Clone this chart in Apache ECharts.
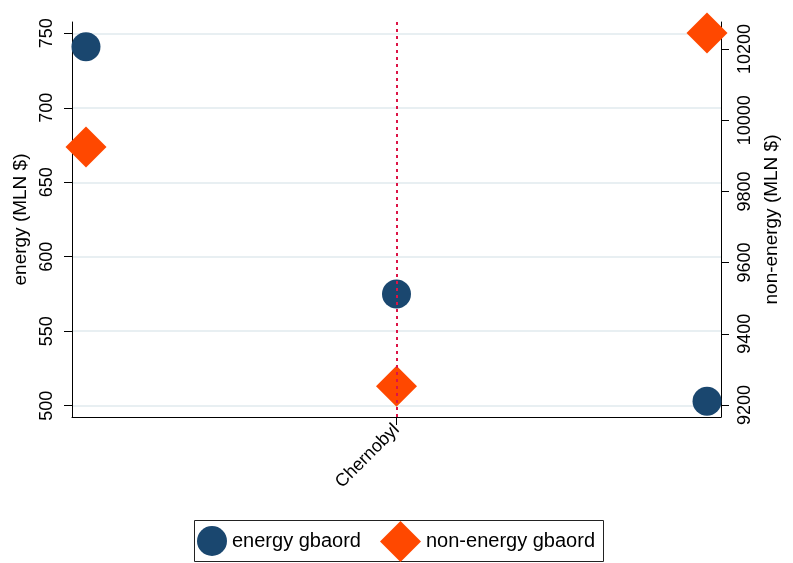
<!DOCTYPE html>
<html>
<head>
<meta charset="utf-8">
<script src="https://cdn.jsdelivr.net/npm/echarts@6/dist/echarts.min.js"></script>
<style>
  html, body { margin: 0; padding: 0; background: #fff; }
  #chart { width: 793px; height: 563px; }
</style>
</head>
<body>
<div id="chart"></div>
<script>
// x positions and the one labelled event
const positions = [0, 1, 2];
const eventLabels = ["", "Chernobyl", ""];
// values
const energy = [741, 575, 503];
const nonEnergy = [9925, 9253, 10245];
const leftTicks = [500, 550, 600, 650, 700, 750];
const rightTicks = [9200, 9400, 9600, 9800, 10000, 10200];

const font = "Liberation Sans, Arial, sans-serif";
const chart = echarts.init(document.getElementById("chart"));

const energyData = positions.map((x, i) => [x, energy[i]]);
const nonEnergyData = positions.map((x, i) => [x, nonEnergy[i]]);

const option = {
  backgroundColor: "#ffffff",
  animation: false,
  textStyle: { fontFamily: font, color: "#000" },
  grid: { left: 72, right: 72, top: 22, bottom: 146 },
  xAxis: {
    type: "value",
    min: -0.045,
    max: 2.045,
    axisLine: { show: true, onZero: false, lineStyle: { color: "#000", width: 1 } },
    axisTick: { show: true, length: 8, customValues: [1], lineStyle: { color: "#000" } },
    axisLabel: {
      customValues: [1],
      rotate: 45,
      margin: 10,
      fontSize: 18,
      color: "#000",
      fontFamily: font,
      formatter: (v) => eventLabels[Math.round(v)] || "",
    },
    splitLine: { show: false },
  },
  yAxis: [
    {
      type: "value",
      position: "left",
      min: 492.4,
      max: 757.6,
      name: "energy (MLN $)",
      nameLocation: "middle",
      nameGap: 39,
      nameTextStyle: { fontSize: 19, color: "#000", fontFamily: font },
      axisLine: { show: true, onZero: false, lineStyle: { color: "#000" } },
      axisTick: { show: true, length: 8, customValues: leftTicks, lineStyle: { color: "#000" } },
      axisLabel: { customValues: leftTicks, rotate: 90, fontSize: 18, margin: 16, color: "#000", fontFamily: font },
      splitLine: { show: true, lineStyle: { color: "#e8eff2", width: 2 } },
    },
    {
      type: "value",
      position: "right",
      min: 9166.3,
      max: 10275.8,
      name: "non-energy (MLN $)",
      nameLocation: "middle",
      nameGap: 40,
      nameTextStyle: { fontSize: 19, color: "#000", fontFamily: font },
      axisLine: { show: true, onZero: false, lineStyle: { color: "#000" } },
      axisTick: { show: true, length: 8, customValues: rightTicks, lineStyle: { color: "#000" } },
      axisLabel: {
        customValues: rightTicks,
        rotate: 90,
        fontSize: 18,
        margin: 15,
        color: "#000",
        fontFamily: font,
        formatter: (v) => String(Math.round(v)),
      },
      splitLine: { show: false },
    },
  ],
  legend: [
    {
      data: ["energy gbaord"],
      left: 197,
      top: 526,
      padding: 0,
      itemWidth: 30,
      itemHeight: 30,
      icon: "circle",
      textStyle: { fontSize: 20, color: "#000", fontFamily: font },
    },
    {
      data: ["non-energy gbaord"],
      left: 380,
      top: 521,
      padding: 0,
      itemWidth: 41,
      itemHeight: 41,
      icon: "diamond",
      textStyle: { fontSize: 20, color: "#000", fontFamily: font },
    },
  ],
  graphic: [
    {
      type: "rect",
      shape: { x: 194.5, y: 520.5, width: 409, height: 41 },
      style: { fill: "none", stroke: "#222", lineWidth: 1 },
      z: -1,
    },
  ],
  series: [
    {
      name: "energy gbaord",
      type: "scatter",
      yAxisIndex: 0,
      symbol: "circle",
      symbolSize: 29,
      itemStyle: { color: "#1a476f", opacity: 1 },
      data: energyData,
      markLine: {
        silent: true,
        symbol: "none",
        label: { show: false },
        lineStyle: { color: "#dc1446", type: [3, 4], width: 2 },
        data: [{ xAxis: 1 }],
      },
    },
    {
      name: "non-energy gbaord",
      type: "scatter",
      yAxisIndex: 1,
      symbol: "diamond",
      symbolSize: 41,
      itemStyle: { color: "#ff4800", opacity: 1 },
      data: nonEnergyData,
    },
  ],
};

chart.setOption(option);
</script>
</body>
</html>
